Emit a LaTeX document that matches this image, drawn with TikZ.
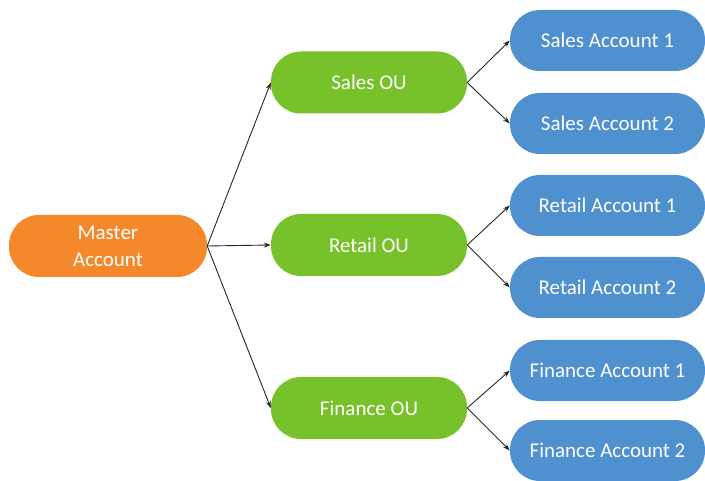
\documentclass[tikz,border=0pt]{standalone}
\usepackage{fontspec}
\setmainfont{Carlito}
\usetikzlibrary{arrows.meta}
\definecolor{morange}{HTML}{F5882A}
\definecolor{ougreen}{HTML}{77C22A}
\definecolor{accblue}{HTML}{4F90CF}
\begin{document}
\begin{tikzpicture}[x=1pt,y=1pt,
  pill/.style={rectangle, rounded corners=30pt, text=white, inner sep=0pt,
    font=\fontsize{21}{27}\selectfont, align=center},
  master/.style={pill, fill=morange, minimum width=198pt, minimum height=62pt},
  ou/.style={pill, fill=ougreen, minimum width=196pt, minimum height=62pt},
  acc/.style={pill, fill=accblue, minimum width=195pt, minimum height=61pt},
  conn/.style={draw=black!85, line width=0.9pt, -{Stealth[length=7pt,width=5pt]}}
]
\useasboundingbox (0,0) rectangle (705,480);
\node[master] (m) at (108,234) {Master\\Account};
\node[ou] (sou) at (369,397.5) {Sales OU};
\node[ou] (rou) at (369,235) {Retail OU};
\node[ou] (fou) at (369,72) {Finance OU};
\node[acc] (s1) at (607.5,439.5) {Sales Account 1};
\node[acc] (s2) at (607.5,356.5) {Sales Account 2};
\node[acc] (r1) at (607.5,274.5) {Retail Account 1};
\node[acc] (r2) at (607.5,192.5) {Retail Account 2};
\node[acc] (f1) at (607.5,109.5) {Finance Account 1};
\node[acc] (f2) at (607.5,29.5) {Finance Account 2};
\draw[conn] (m.east) -- (sou.west);
\draw[conn] (m.east) -- (rou.west);
\draw[conn] (m.east) -- (fou.west);
\draw[conn] (sou.east) -- (s1.west);
\draw[conn] (sou.east) -- (s2.west);
\draw[conn] (rou.east) -- (r1.west);
\draw[conn] (rou.east) -- (r2.west);
\draw[conn] (fou.east) -- (f1.west);
\draw[conn] (fou.east) -- (f2.west);
\end{tikzpicture}
\end{document}
